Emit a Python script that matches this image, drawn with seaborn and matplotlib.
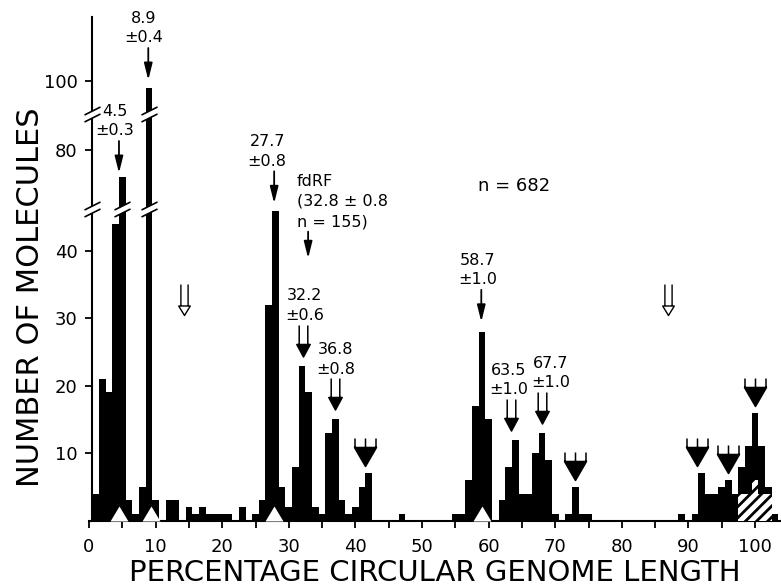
import numpy as np
import matplotlib
matplotlib.use("Agg")
import matplotlib.pyplot as plt
import seaborn as sns
from matplotlib.path import Path

# ---------------- data ----------------
bin_centers = list(range(1, 104))          # % circular genome length, 1 % bins
counts = [4, 21, 19, 44, 72, 3, 1, 5, 98, 3,      # 1-10
          0, 3, 3, 0, 2, 1, 2, 1, 1, 1,           # 11-20
          1, 0, 2, 0, 1, 3, 32, 46, 5, 2,         # 21-30
          8, 23, 19, 2, 1, 13, 15, 3, 1, 2,       # 31-40
          5, 7, 0, 0, 0, 0, 1, 0, 0, 0,           # 41-50
          0, 0, 0, 0, 1, 1, 6, 17, 28, 15,        # 51-60
          0, 3, 8, 12, 4, 4, 10, 13, 9, 1,        # 61-70
          0, 1, 5, 1, 1, 0, 0, 0, 0, 0,           # 71-80
          0, 0, 0, 0, 0, 0, 0, 0, 1, 0,           # 81-90
          1, 7, 4, 4, 5, 6, 4, 8, 11, 16,         # 91-100
          11, 5, 1]                               # 101-103
hatched_centers = [98, 99, 100, 101, 102]
hatched_counts = [4, 4, 6, 4, 4]

mean_marks = [4.5, 9.3, 27.8, 59.0]               # white triangles on baseline

simple_x = [4.5, 8.9, 27.8, 58.9]
simple_bin = [5, 9, 28, 59]
simple_labels = ["4.5\n±0.3", "8.9\n±0.4", "27.7\n±0.8", "58.7\n±1.0"]

double_x = [32.2, 37.0, 63.3, 68.0]
double_bin = [32, 37, 64, 68]
double_labels = ["32.2\n±0.6", "36.8\n±0.8", "63.5\n±1.0", "67.7\n±1.0"]

triple_x = [41.4, 73.0, 91.3, 95.9, 100.0]
triple_bin = [42, 73, 92, 96, 100]

hollow_x = [14.2, 86.9]

x_ticks = list(range(0, 101, 10))
x_minor = list(range(5, 101, 10))
y_ticks = [10, 20, 30, 40, 80, 100]

# ---------------- broken y scale ----------------
LOW_TOP, HIGH_BOTTOM, GAP, HIGH_K = 46.0, 63.0, 0.3, 0.512


def fwd(v):
    v = np.asarray(v, dtype=float)
    mid = LOW_TOP + (v - LOW_TOP) * GAP / (HIGH_BOTTOM - LOW_TOP)
    hi = LOW_TOP + GAP + (v - HIGH_BOTTOM) * HIGH_K
    return np.where(v <= LOW_TOP, v, np.where(v <= HIGH_BOTTOM, mid, hi))


def inv(f):
    f = np.asarray(f, dtype=float)
    mid = LOW_TOP + (f - LOW_TOP) * (HIGH_BOTTOM - LOW_TOP) / GAP
    hi = HIGH_BOTTOM + (f - LOW_TOP - GAP) / HIGH_K
    return np.where(f <= LOW_TOP, f, np.where(f <= LOW_TOP + GAP, mid, hi))


def glyph(polys=(), segs=()):
    """Build a marker path in pixel units; returns (path, markersize)."""
    verts, codes = [], []
    for p in polys:
        verts += list(p) + [p[0]]
        codes += [Path.MOVETO] + [Path.LINETO] * (len(p) - 1) + [Path.CLOSEPOLY]
    for s in segs:
        verts += list(s)
        codes += [Path.MOVETO] + [Path.LINETO] * (len(s) - 1)
    verts = np.array(verts, dtype=float)
    m = np.abs(verts).max()
    return Path(verts, codes), 2 * m * 0.72


sns.set_style("ticks")
plt.rcParams["font.family"] = ["DejaVu Sans"]
plt.rcParams["hatch.color"] = "black"
plt.rcParams["hatch.linewidth"] = 2.0
plt.rcParams["axes.linewidth"] = 1.5
for k in ["text.color", "axes.labelcolor", "axes.edgecolor", "xtick.color", "ytick.color"]:
    plt.rcParams[k] = "black"

fig = plt.figure(figsize=(7.81, 5.87), dpi=100)
ax = fig.add_axes([89 / 781, 66.5 / 587, 692 / 781, 503.5 / 587])
ax.set_yscale("function", functions=(fwd, inv))

sns.histplot(x=bin_centers, weights=counts, discrete=True, shrink=1,
             color="black", alpha=1, linewidth=0, ax=ax, zorder=2)
sns.histplot(x=hatched_centers, weights=hatched_counts, discrete=True, shrink=1,
             color="white", alpha=1, linewidth=0, edgecolor="black",
             hatch="///", ax=ax, zorder=3)

ax.set_xlim(0, 103.9)
ax.set_ylim(0, 118.5)
ax.set_xticks(x_ticks)
ax.set_xticks(x_minor, minor=True)
ax.set_xticklabels([str(t) for t in x_ticks])
ax.set_yticks(y_ticks)
ax.set_yticklabels([str(t) for t in y_ticks])
ax.yaxis.set_minor_locator(matplotlib.ticker.NullLocator())
ax.tick_params(axis="both", which="both", direction="out", length=5, width=1.3,
               labelsize=13, color="black", labelcolor="black")
ax.tick_params(axis="x", which="both", pad=7.5)
ax.tick_params(axis="y", pad=5.5)
sns.despine(ax=ax)
ax.spines["left"].set_position(("data", 0.5))
ax.set_xlabel("PERCENTAGE CIRCULAR GENOME LENGTH", fontsize=21)
ax.set_ylabel("NUMBER OF MOLECULES", fontsize=22)
ax.xaxis.set_label_coords(0.5, -0.077)
ax.yaxis.set_label_coords(-0.064, 0.444)

height = dict(zip(bin_centers, counts))
px = 0.72  # points per pixel
xaxis_tr = ax.get_xaxis_transform()

# white triangles marking the peak means
tri_path, tri_ms = glyph(polys=[[(-9, 0), (9, 0), (0, 15)]])
ax.plot(mean_marks, [0] * len(mean_marks), ls="none", marker=tri_path, ms=tri_ms,
        mfc="white", mec="white", mew=0, zorder=4, clip_on=False)

# simple labelled arrows
simple_gap = [4.4, 7.7, 7.2, 10.0]
simple_dx = [-4, -5, -7, -4]
for x, b, lab, g, dx in zip(simple_x, simple_bin, simple_labels, simple_gap, simple_dx):
    h = height[b]
    ax.annotate("", xy=(x, h), xytext=(0, (g + 32) * px), textcoords="offset points",
                arrowprops=dict(arrowstyle="-|>,head_length=1.0,head_width=0.25",
                                color="black", lw=1.3, shrinkA=0, shrinkB=g * px),
                zorder=5)
    ax.annotate(lab, xy=(x, h), xytext=(dx * px, (g + 32 + 6.5 - 3.8) * px),
                textcoords="offset points", ha="center", va="bottom",
                fontsize=11.5, linespacing=1.36, zorder=5)

# double-shaft arrows with filled heads
g2 = 9.5
dbl_path, dbl_ms = glyph(polys=[[(-6.7, g2 + 12.5), (6.7, g2 + 12.5), (0, g2)]],
                         segs=[[(-4.3, g2 + 12.5), (-4.3, g2 + 31.5)],
                               [(4.3, g2 + 12.5), (4.3, g2 + 31.5)]])
ax.plot(double_x, [height[b] for b in double_bin], ls="none", marker=dbl_path,
        ms=dbl_ms, mfc="black", mec="black", mew=1.1, zorder=5)
double_dx = [1, 0, -2, 9]
for x, b, lab, dx in zip(double_x, double_bin, double_labels, double_dx):
    ax.annotate(lab, xy=(x, height[b]), xytext=(dx * px, (g2 + 31.5 + 5.5 - 3.8) * px),
                textcoords="offset points", ha="center", va="bottom",
                fontsize=11.5, linespacing=1.36, zorder=5)

# triple-pronged arrows
g3 = 7.0
tri3_path, tri3_ms = glyph(polys=[[(-11, g3 + 19), (11, g3 + 19), (0, g3)]],
                           segs=[[(-10.5, g3 + 19), (-10.5, g3 + 28)],
                                 [(0, g3 + 19), (0, g3 + 28)],
                                 [(10.5, g3 + 19), (10.5, g3 + 28)]])
ax.plot(triple_x, [height[b] for b in triple_bin], ls="none", marker=tri3_path,
        ms=tri3_ms, mfc="black", mec="black", mew=1.1, zorder=5)

# hollow double arrows
hol_path, hol_ms = glyph(polys=[[(-5.8, 9.5), (5.8, 9.5), (0, 0)]],
                         segs=[[(-3.6, 9.5), (-3.6, 31)], [(3.6, 9.5), (3.6, 31)]])
ax.plot(hollow_x, [0.408] * len(hollow_x), ls="none", marker=hol_path, ms=hol_ms,
        mfc="white", mec="black", mew=1.0, transform=xaxis_tr, zorder=5)

# fdRF annotation
ax.text(31.2, 0.689, "fdRF\n(32.8 ± 0.8\nn = 155)", transform=xaxis_tr,
        ha="left", va="top", fontsize=11.5, linespacing=1.45)
ax.annotate("", xy=(32.9, 0.5208), xytext=(32.9, 0.5736),
            xycoords=xaxis_tr, textcoords=xaxis_tr,
            arrowprops=dict(arrowstyle="-|>,head_length=1.0,head_width=0.25",
                            color="black", lw=1.3, shrinkA=0, shrinkB=0))
ax.text(63.8, 0.664, "n = 682", transform=xaxis_tr, ha="center", va="center",
        fontsize=13)

# axis / bar breaks
brk_fill, brk_ms = glyph(polys=[[(-8, -7.5), (8, 0.5), (8, 7.5), (-8, -0.5)]])
brk_line, _ = glyph(segs=[[(-8, -7.5), (8, 0.5)], [(-8, -0.5), (8, 7.5)]])
break_x = [0.5, 5, 9, 0.5, 9]
break_y = [55, 55, 55, 90.4, 90.4]
ax.plot(break_x, break_y, ls="none", marker=brk_fill, ms=brk_ms, mfc="white",
        mec="none", zorder=6, clip_on=False)
ax.plot(break_x, break_y, ls="none", marker=brk_line, ms=brk_ms, mfc="none",
        mec="black", mew=1.2, zorder=7, clip_on=False)

fig.savefig("out.png", dpi=100)
